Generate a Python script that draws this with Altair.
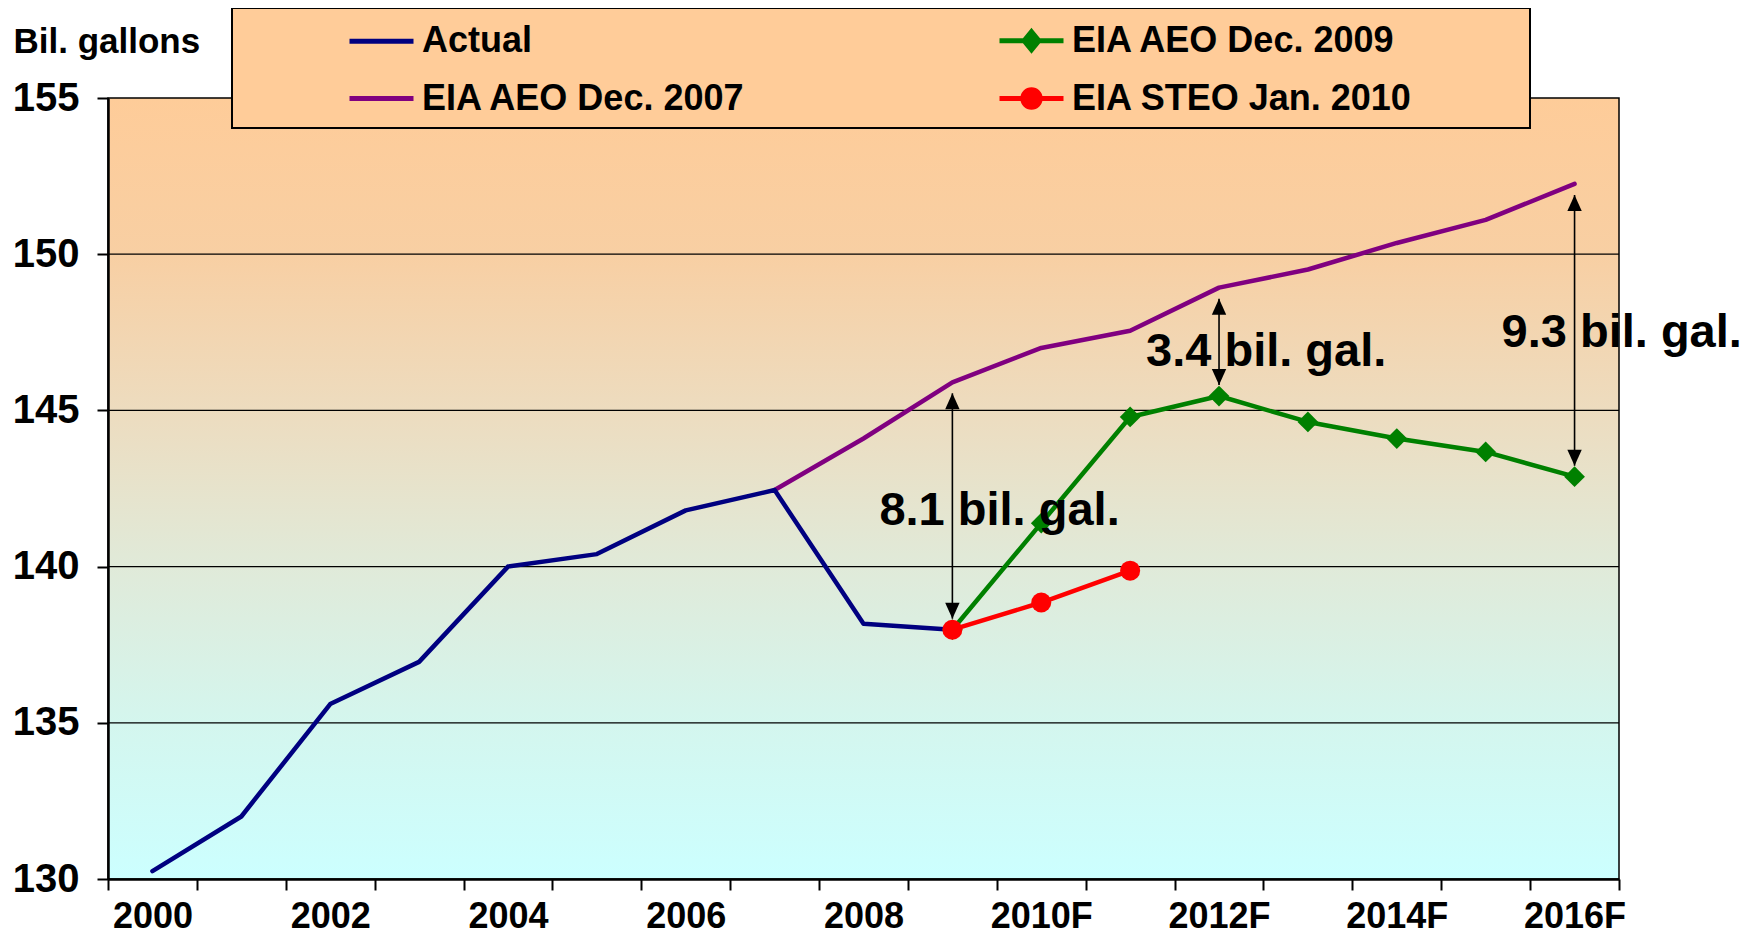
import altair as alt
import pandas as pd

# ---------------- data ----------------
years = ["2000", "2001", "2002", "2003", "2004", "2005", "2006", "2007", "2008",
         "2009", "2010F", "2011F", "2012F", "2013F", "2014F", "2015F", "2016F"]
actual = [130.25, 132.0, 135.6, 136.95, 140.0, 140.4, 141.8, 142.45, 138.17, 137.98,
          None, None, None, None, None, None, None]
aeo_2007 = [None, None, None, None, None, None, None, 142.45, 144.1, 145.9,
            147.0, 147.55, 148.93, 149.51, 150.36, 151.1, 152.25]
aeo_2009 = [None, None, None, None, None, None, None, None, None, 137.98,
            141.39, 144.79, 145.46, 144.63, 144.1, 143.67, 142.88]
steo_2010 = [None, None, None, None, None, None, None, None, None, 137.98,
             138.85, 139.87, None, None, None, None, None]
series_names = ["Actual", "EIA AEO Dec. 2007", "EIA AEO Dec. 2009", "EIA STEO Jan. 2010"]
series_colors = ["#000080", "#800080", "#008000", "#FF0000"]
y_ticks = [130, 135, 140, 145, 150, 155]
gap_years = ["2009", "2012F", "2016F"]
gap_labels = ["8.1 bil. gal.", "3.4 bil. gal.", "9.3 bil. gal."]
gap_label_values = [141.34, 146.41, 147.02]

# ---------------- tables ----------------
def series_df(vals, name):
    rows = [(y, v) for y, v in zip(years, vals) if v is not None]
    return pd.DataFrame({"year": [r[0] for r in rows], "value": [r[1] for r in rows], "series": name})

df_actual = series_df(actual, series_names[0])
df_07 = series_df(aeo_2007, series_names[1])
df_09 = series_df(aeo_2009, series_names[2])
df_steo = series_df(steo_2010, series_names[3])

low_map = {"2009": steo_2010[years.index("2009")],
           "2012F": aeo_2009[years.index("2012F")],
           "2016F": aeo_2009[years.index("2016F")]}
df_arrows = pd.DataFrame({
    "year": gap_years,
    "low": [low_map[y] for y in gap_years],
    "high": [aeo_2007[years.index(y)] for y in gap_years],
})
df_text = pd.DataFrame({"year": gap_years, "value": gap_label_values, "label": gap_labels})

# legend fills column by column: col 1 = Actual, AEO 2007; col 2 = AEO 2009, STEO
legend_order = list(series_names)
legend_colors = list(series_colors)
df_leg = pd.DataFrame({"series": legend_order, "value": [float("nan")] * 4})

# ---------------- layout / style ----------------
W, H = 1511, 781
FONT = "Liberation Sans"

LINE_PATH = "M-1,0L1,0"
DIAMOND_PATH = "M-1,0L1,0M0,-0.28L0.23,0L0,0.28L-0.23,0Z"
CIRCLE_PATH = "M-1,0L1,0M0.27,0A0.27,0.27,0,1,1,-0.27,0A0.27,0.27,0,1,1,0.27,0Z"
legend_shapes = [LINE_PATH, LINE_PATH, DIAMOND_PATH, CIRCLE_PATH]

x_axis = alt.Axis(
    title=None, tickBand="extent", grid=False, labelAngle=0, labelOverlap=False,
    labelExpr="toNumber(slice(datum.label,0,4)) % 2 == 0 ? datum.label : ''",
    labelFont=FONT, labelFontSize=36, labelFontWeight="bold", labelColor="black",
    labelPadding=9, tickSize=11, tickWidth=2, tickColor="black",
    domainColor="black", domainWidth=2.5, zindex=1,
)
y_axis = alt.Axis(
    title="Bil. gallons", titleAngle=0, titleX=-95, titleY=-46, titleAlign="left",
    titleBaseline="alphabetic", titleFont=FONT, titleFontSize=35, titleFontWeight="bold",
    titleColor="black", values=y_ticks, grid=False,
    labelFont=FONT, labelFontSize=40, labelFontWeight="bold", labelColor="black",
    labelPadding=18, tickSize=11, tickWidth=2, tickColor="black",
    domainColor="black", domainWidth=2.5, zindex=1,
)
x_scale = alt.Scale(type="band", domain=years, paddingInner=0, paddingOuter=0)
y_scale = alt.Scale(domain=[130, 155], nice=False, zero=False)


def X():
    return alt.X("year:N", scale=x_scale, axis=x_axis, bandPosition=0.5)


def Y(field="value"):
    return alt.Y(f"{field}:Q", scale=y_scale, axis=y_axis)


gradient = alt.Gradient(
    gradient="linear", x1=0, x2=0, y1=0, y2=1,
    stops=[
        alt.GradientStop(color="#FECC99", offset=0.0),
        alt.GradientStop(color="#F8CFA3", offset=0.2),
        alt.GradientStop(color="#EDDCBF", offset=0.4),
        alt.GradientStop(color="#E0EAD9", offset=0.6),
        alt.GradientStop(color="#D4F6EE", offset=0.8),
        alt.GradientStop(color="#CCFFFF", offset=1.0),
    ],
)

one = pd.DataFrame({"a": [0]})

bg = alt.Chart(one).mark_rect(fill=gradient).encode(
    x=alt.value(0), x2=alt.value(W), y=alt.value(0), y2=alt.value(H)
)
grid = alt.Chart(pd.DataFrame({"value": y_ticks[1:-1]})).mark_rule(
    color="black", strokeWidth=1.3
).encode(y=Y(), x=alt.value(0), x2=alt.value(W))
border = alt.Chart(one).mark_rect(fill="transparent", stroke="black", strokeWidth=1.5).encode(
    x=alt.value(0), x2=alt.value(W), y=alt.value(0), y2=alt.value(H)
)

line_kw = dict(strokeWidth=4.5, strokeCap="round", strokeJoin="round")
l07 = alt.Chart(df_07).mark_line(color=series_colors[1], **line_kw).encode(x=X(), y=Y())
lact = alt.Chart(df_actual).mark_line(color=series_colors[0], **line_kw).encode(x=X(), y=Y())
l09 = alt.Chart(df_09).mark_line(color=series_colors[2], **line_kw).encode(x=X(), y=Y())
p09 = alt.Chart(df_09).mark_point(shape="diamond", filled=True, size=430, opacity=1,
                                  color=series_colors[2]).encode(x=X(), y=Y())
lsteo = alt.Chart(df_steo).mark_line(color=series_colors[3], **line_kw).encode(x=X(), y=Y())
psteo = alt.Chart(df_steo).mark_circle(size=400, opacity=1, color=series_colors[3]).encode(x=X(), y=Y())

arrow_rule = alt.Chart(df_arrows).mark_rule(color="black", strokeWidth=1.6, yOffset=-11, y2Offset=11).encode(
    x=X(), y=Y("low"), y2="high:Q"
)
head_up = alt.Chart(df_arrows).mark_point(
    shape="M0,0L-0.45,1L0.45,1Z", filled=True, size=1024, opacity=1, color="black", yOffset=11
).encode(x=X(), y=Y("high"))
head_down = alt.Chart(df_arrows).mark_point(
    shape="M0,0L-0.45,-1L0.45,-1Z", filled=True, size=1024, opacity=1, color="black", yOffset=-11
).encode(x=X(), y=Y("low"))

texts = alt.Chart(df_text).mark_text(
    align="left", baseline="alphabetic", dx=-73, font=FONT, fontSize=47,
    fontWeight="bold", color="black"
).encode(x=X(), y=Y(), text="label:N")

legend_box = alt.Chart(one).mark_rect(fill="#FFCC99", stroke="black", strokeWidth=2).encode(
    x=alt.value(124), x2=alt.value(1422), y=alt.value(-90), y2=alt.value(30)
)

leg = alt.Legend(
    title=None, orient="none", legendX=239, legendY=-92, columns=2, columnPadding=242,
    rowPadding=4, gridAlign="each", padding=0,
    labelFont=FONT, labelFontSize=36, labelFontWeight="bold", labelColor="black",
    labelLimit=800, labelOffset=6, symbolSize=4096, symbolStrokeWidth=5, symbolOpacity=1,
)
legend_layer = alt.Chart(df_leg).mark_point(strokeWidth=5, opacity=1, fillOpacity=1).encode(
    x=alt.value(0),
    y=Y(),
    fill=alt.Fill("series:N", scale=alt.Scale(domain=legend_order, range=legend_colors), legend=leg),
    stroke=alt.Stroke("series:N", scale=alt.Scale(domain=legend_order, range=legend_colors), legend=leg),
    shape=alt.Shape("series:N", scale=alt.Scale(domain=legend_order, range=legend_shapes), legend=leg),
)

chart = alt.layer(
    bg, grid, border, l07, lact, l09, p09, lsteo, psteo,
    arrow_rule, head_up, head_down, texts, legend_box, legend_layer
).properties(
    width=W, height=H,
    autosize=alt.AutoSizeParams(type="none"),
    padding={"left": 100, "top": 90, "right": 125, "bottom": 56},
).configure(font=FONT).configure_view(stroke=None)

chart.save("out.html", embed_options={"renderer": "svg", "actions": False})
